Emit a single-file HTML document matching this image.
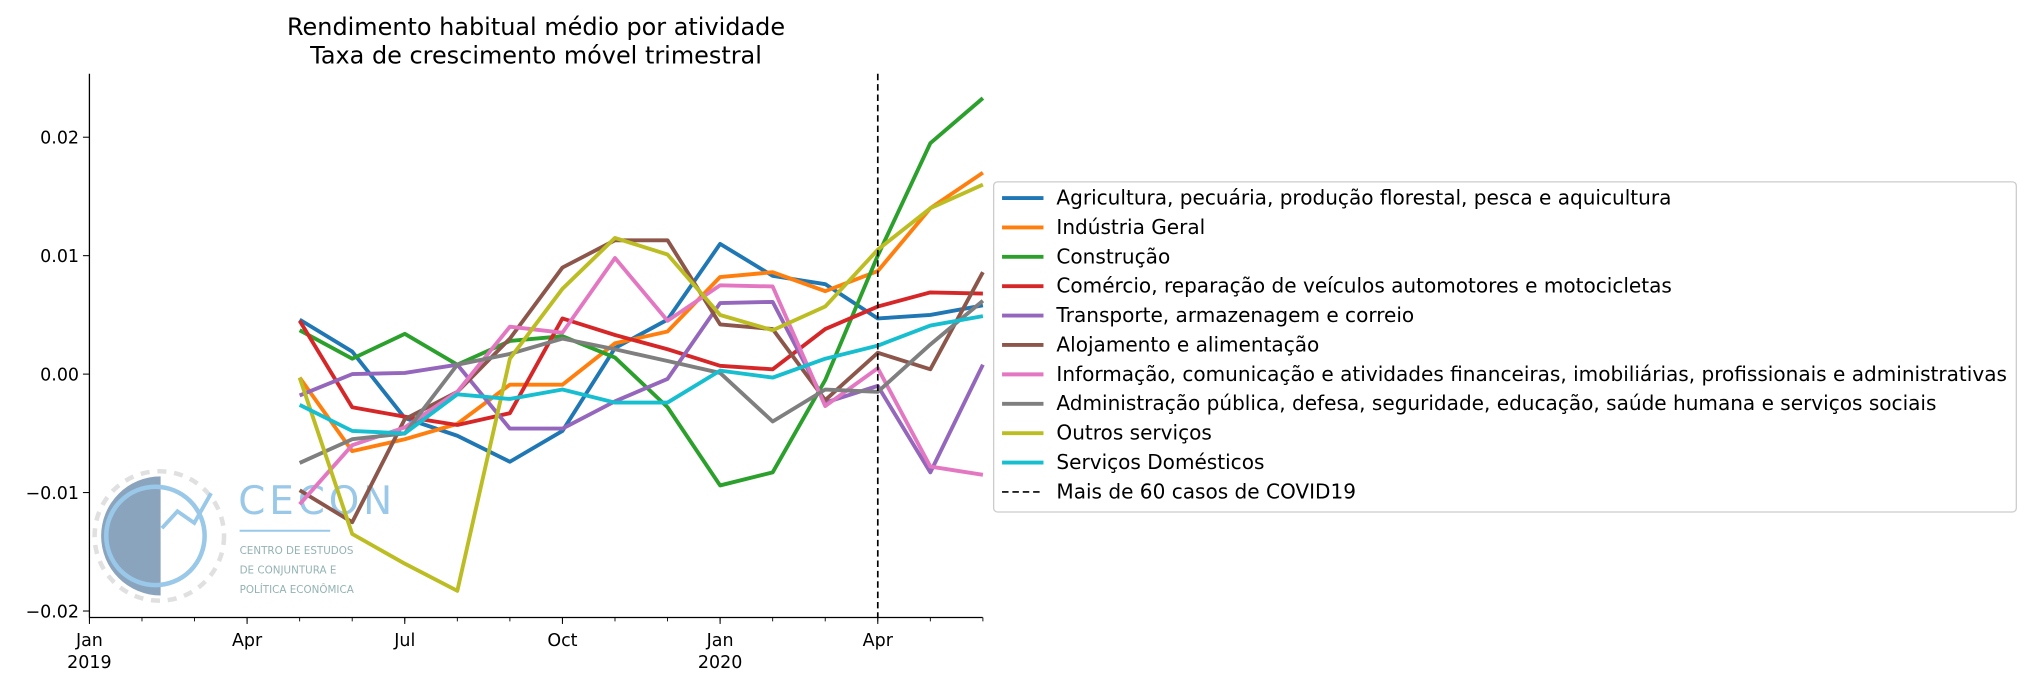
<!DOCTYPE html>
<html><head><meta charset="utf-8"><style>
body{margin:0;background:#fff;}
svg text{font-family:"DejaVu Sans","Liberation Sans",sans-serif;}
</style></head><body>
<svg id="chart" width="2030" height="687" viewBox="0 0 1568 530.7" xmlns="http://www.w3.org/2000/svg">
<g id="logo" opacity="0.9">
  <circle cx="123" cy="414" r="50" fill="none" stroke="#ddd" stroke-width="3.5" stroke-dasharray="7 6"/>
  <path d="M124 368 A44 44 0 0 0 124 460 Z" fill="#7f9bb8"/>
  <circle cx="120" cy="414" r="38" fill="none" stroke="#8ec3e6" stroke-width="3.5"/>
  <polyline points="125,408 137,395 150,404 163,381" fill="none" stroke="#8ec3e6" stroke-width="3"/>
  <text x="184" y="397" font-size="30" fill="#8ec3e6" letter-spacing="3" font-family="Liberation Sans Narrow, Liberation Sans, sans-serif">CECON</text>
  <line x1="185" y1="410" x2="255" y2="410" stroke="#8ec3e6" stroke-width="1.5"/>
  <text x="185" y="428" font-size="8" fill="#8aa">CENTRO DE ESTUDOS</text>
  <text x="185" y="443" font-size="8" fill="#8aa">DE CONJUNTURA E</text>
  <text x="185" y="458" font-size="8" fill="#8aa">POLÍTICA ECONÔMICA</text>
</g>
<text x="414" y="27" font-size="18.5" text-anchor="middle">Rendimento habitual médio por atividade</text>
<text x="414" y="49" font-size="18.5" text-anchor="middle">Taxa de crescimento móvel trimestral</text>
<g id="axes"></g>
<g id="series"></g>
<g id="legend"></g>
</svg>
<script>
const months = ["2019-05","2019-06","2019-07","2019-08","2019-09","2019-10","2019-11","2019-12","2020-01","2020-02","2020-03","2020-04","2020-05","2020-06"];
const seriesNames = ["Agricultura, pecuária, produção florestal, pesca e aquicultura","Indústria Geral","Construção","Comércio, reparação de veículos automotores e motocicletas","Transporte, armazenagem e correio","Alojamento e alimentação","Informação, comunicação e atividades financeiras, imobiliárias, profissionais e administrativas","Administração pública, defesa, seguridade, educação, saúde humana e serviços sociais","Outros serviços","Serviços Domésticos"];
const agri = [0.0046,0.0019,-0.0037,-0.0052,-0.0074,-0.0048,0.0022,0.0046,0.0110,0.0083,0.0076,0.0047,0.0050,0.0058];
const industria = [-0.0003,-0.0065,-0.0055,-0.0042,-0.0009,-0.0009,0.0026,0.0036,0.0082,0.0086,0.0070,0.0087,0.0140,0.0170];
const construcao = [0.0037,0.0013,0.0034,0.0008,0.0028,0.0032,0.0014,-0.0028,-0.0094,-0.0083,-0.0005,0.0100,0.0195,0.0233];
const comercio = [0.0045,-0.0028,-0.0036,-0.0043,-0.0033,0.0047,0.0033,0.0021,0.0007,0.0004,0.0038,0.0057,0.0069,0.0068];
const transporte = [-0.0018,0.0000,0.0001,0.0008,-0.0046,-0.0046,-0.0023,-0.0004,0.0060,0.0061,-0.0024,-0.0010,-0.0083,0.0008];
const alojamento = [-0.0098,-0.0125,-0.0038,-0.0015,0.0030,0.0090,0.0113,0.0113,0.0042,0.0038,-0.0022,0.0018,0.0004,0.0086];
const informacao = [-0.0110,-0.0060,-0.0045,-0.0015,0.0040,0.0035,0.0098,0.0045,0.0075,0.0074,-0.0027,0.0005,-0.0078,-0.0085];
const administracao = [-0.0075,-0.0055,-0.0050,0.0008,0.0017,0.0030,0.0021,0.0011,0.0001,-0.0040,-0.0013,-0.0015,0.0025,0.0062];
const outros = [-0.0003,-0.0135,-0.0160,-0.0183,0.0013,0.0072,0.0115,0.0101,0.0050,0.0037,0.0057,0.0105,0.0140,0.0160];
const domesticos = [-0.0026,-0.0048,-0.0050,-0.0017,-0.0021,-0.0013,-0.0024,-0.0024,0.0003,-0.0003,0.0013,0.0024,0.0041,0.0049];
const yTicks = [-0.02,-0.01,0.00,0.01,0.02];
const yTickLabels = ["−0.02","−0.01","0.00","0.01","0.02"];
const xTickMonths = ["2019-01","2019-04","2019-07","2019-10","2020-01","2020-04"];
const xTickLabels = ["Jan","Apr","Jul","Oct","Jan","Apr"];
const covidMonth = "2020-04";

const allSeries=[agri,industria,construcao,comercio,transporte,alojamento,informacao,administracao,outros,domesticos];
const colors=["#1f77b4","#ff7f0e","#2ca02c","#d62728","#9467bd","#8c564b","#e377c2","#7f7f7f","#bcbd22","#17becf"];
const NS="http://www.w3.org/2000/svg";
function mIdx(s){const [y,m]=s.split("-").map(Number);return (y-2019)*12+(m-1);}
function xs(s){return 69+mIdx(s)*(678-69)/15;}
function ys(v){return 289-v*9150;}
function mk(tag,attrs,parent){const e=document.createElementNS(NS,tag);for(const k in attrs)e.setAttribute(k,attrs[k]);parent.appendChild(e);return e;}
const axes=document.getElementById("axes");
let e;
e=mk("line",{x1:69,y1:57,x2:69,y2:477,stroke:"#000","stroke-width":1},axes);


e=mk("line",{x1:69,y1:477,x2:759,y2:477,stroke:"#000","stroke-width":1},axes);


yTicks.forEach((v,i)=>{
  mk("line",{x1:64,y1:ys(v),x2:69,y2:ys(v),stroke:"#000","stroke-width":0.8},axes);
  e=mk("text",{x:61,y:ys(v)+5,"font-size":13.5,"text-anchor":"end"},axes);
  e.textContent=yTickLabels[i];
  
  
});
for(let m=0;m<=17;m++){const x=69+m*(678-69)/15;if(x>760)break;mk("line",{x1:x,y1:477,x2:x,y2:480,stroke:"#000","stroke-width":0.7},axes);}
xTickMonths.forEach((s,i)=>{
  const x=xs(s);
  mk("line",{x1:x,y1:477,x2:x,y2:482,stroke:"#000","stroke-width":0.8},axes);
  e=mk("text",{x:x,y:499,"font-size":13.5,"text-anchor":"middle"},axes);
  e.textContent=xTickLabels[i];
  
  
  if(xTickLabels[i]==="Jan"){
    e=mk("text",{x:x,y:516,"font-size":13.5,"text-anchor":"middle"},axes);
    e.textContent=s.slice(0,4);
    
    
  }
});
const ser=document.getElementById("series");
allSeries.forEach((arr,i)=>{
  const pts=arr.map((v,j)=>xs(months[j]).toFixed(1)+","+ys(v).toFixed(1)).join(" ");
  e=mk("polyline",{points:pts,fill:"none",stroke:colors[i],"stroke-width":3,"stroke-linejoin":"round"},ser);
  
  
});
e=mk("line",{x1:xs(covidMonth),y1:57,x2:xs(covidMonth),y2:477,stroke:"#000","stroke-width":1.3,"stroke-dasharray":"5 3"},ser);


const lg=document.getElementById("legend");
e=mk("rect",{x:767.5,y:140.5,width:790,height:255,rx:3,fill:"#fff","fill-opacity":0.8,stroke:"#ccc"},lg);


const labels=seriesNames.concat(["Mais de 60 casos de COVID19"]);
labels.forEach((t,i)=>{
  const y=153+i*22.7;
  const isC=i===10;
  e=mk("line",{x1:774,y1:y,x2:806,y2:y,stroke:isC?"#000":colors[i],"stroke-width":isC?1.3:3,"stroke-dasharray":isC?"5 3":"none"},lg);
  
  
  e=mk("text",{x:816,y:y+5,"font-size":15.5},lg);
  e.textContent=t;
  
  
});
</script>
</body></html>
